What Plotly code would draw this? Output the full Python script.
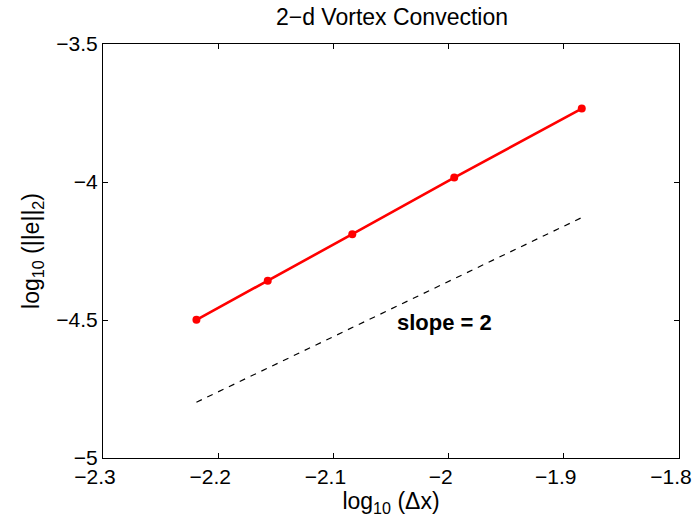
import plotly.graph_objects as go

log_dx = [-2.2189, -2.1570, -2.0836, -1.9951, -1.8844]
log_err = [-4.4995, -4.358, -4.189, -3.984, -3.734]
ref_x = [-2.2189, -1.8844]
ref_y = [-4.798, -4.129]
x_ticks = [-2.3, -2.2, -2.1, -2.0, -1.9, -1.8]
x_tick_text = ["−2.3", "−2.2", "−2.1", "−2", "−1.9", "−1.8"]
y_ticks = [-5, -4.5, -4, -3.5]
y_tick_text = ["−5", "−4.5", "−4", "−3.5"]

FONT = "Liberation Sans, Arial, sans-serif"

fig = go.Figure()
fig.add_trace(go.Scatter(x=ref_x, y=ref_y, mode="lines",
                         line=dict(color="black", width=1.2, dash="6px,6px"),
                         showlegend=False))
fig.add_trace(go.Scatter(x=log_dx, y=log_err, mode="lines+markers",
                         line=dict(color="#ff0000", width=2.6),
                         marker=dict(color="#ff0000", size=8),
                         showlegend=False))
fig.add_annotation(x=-2.0466, y=-4.508, text="<b>slope = 2</b>", showarrow=False,
                   xanchor="left", yanchor="middle",
                   font=dict(family=FONT, size=22, color="black"))

fig.update_layout(
    width=696, height=523,
    margin=dict(l=102.5, r=17, t=43.5, b=65, autoexpand=False),
    paper_bgcolor="white", plot_bgcolor="white",
    font=dict(family=FONT, size=21, color="black"),
    title=dict(text="2−d Vortex Convection", x=392/696, xanchor="center",
               y=1 - 17/523, yanchor="middle", font=dict(family=FONT, size=23)),
)
fig.update_xaxes(range=[-2.3, -1.8], tickvals=x_ticks, ticktext=x_tick_text,
                 showgrid=False, zeroline=False, showline=True, linecolor="black",
                 linewidth=1.2, mirror="ticks", ticks="inside", ticklen=5,
                 tickcolor="black", tickfont=dict(size=21), ticklabeloverflow="allow",
                 ticklabelshift=-8, automargin=False,
                 title=dict(text="log<sub>10</sub> (Δx)", font=dict(size=23), standoff=0))
fig.update_yaxes(range=[-5, -3.5], tickvals=y_ticks, ticktext=y_tick_text,
                 showgrid=False, zeroline=False, showline=True, linecolor="black",
                 linewidth=1.2, mirror="ticks", ticks="inside", ticklen=5,
                 tickcolor="black", tickfont=dict(size=21), ticklabeloverflow="allow",
                 automargin=False,
                 title=dict(text="log<sub>10</sub> (||e||<sub>2</sub>)", font=dict(size=23), standoff=10))

fig.write_html("out.html")
